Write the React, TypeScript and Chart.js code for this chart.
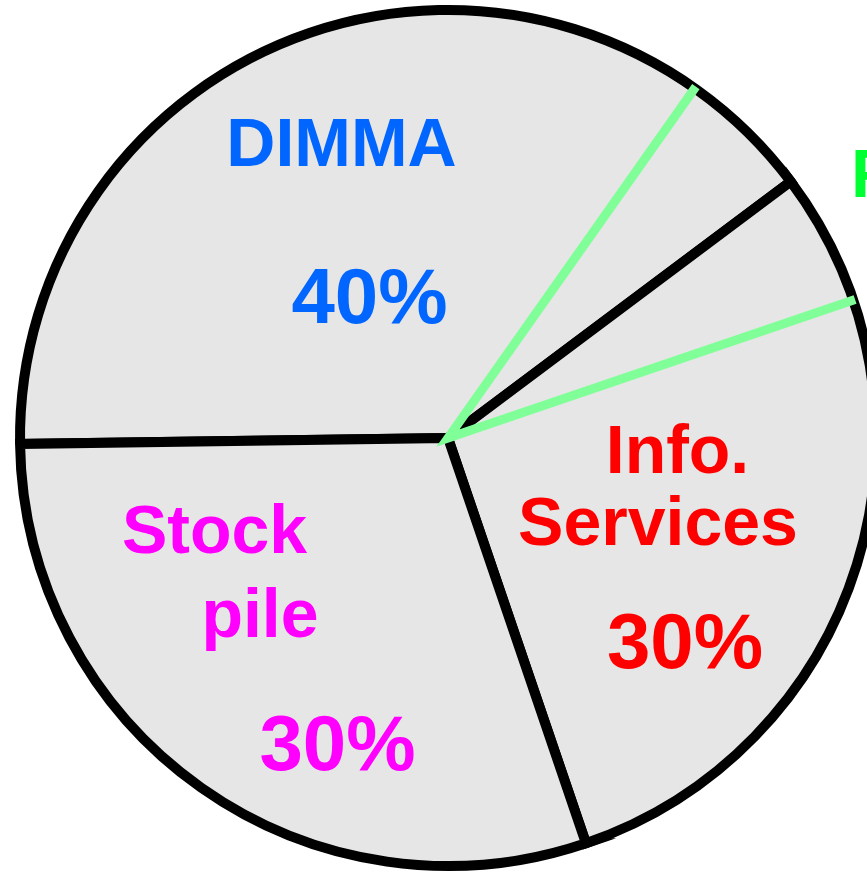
import React, { useEffect, useRef } from "react";
import { Chart, registerables } from "chart.js";

Chart.register(...registerables);

// ---- data ----
const categories = ["DIMMA", "Info. Services", "Stock pile"];
const categoryLines = [["DIMMA"], ["Info.", "Services"], ["Stock", "pile"]];
const values = [40, 30, 30];
const labelColors = ["#0066FF", "#FF0000", "#FF00FF"];
// overlay wedge (green) : starts at this share of the pie, spans overlayValue
const overlayLabel = "F";
const overlayStart = 35;
const overlayValue = 10;
const overlayLabelColor = "#00FF33";
const overlayLineColor = "#80FF99";

// ---- layout (pixel offsets from pie centre) ----
const NAME_FONT = "bold 68px 'Liberation Sans', Arial, sans-serif";
const PCT_FONT = "bold 78px 'Liberation Sans', Arial, sans-serif";
const nameOffsets = [
  [[-106.5, -272]],
  [[229.5, 35], [210, 107]],
  [[-233.5, 115], [-188, 199]],
];
const pctOffsets = [
  [-78.5, -115],
  [237, 230],
  [-110.5, 332],
];
const overlayLabelOffset = [403, -241];

const overlayPlugin = {
  id: "overlayPlugin",
  afterDatasetsDraw(chart: any) {
    const meta = chart.getDatasetMeta(0);
    const arc = meta.data[0];
    if (!arc) return;
    const { x, y, outerRadius } = arc.getProps(["x", "y", "outerRadius"], true);
    const total = values.reduce((a, b) => a + b, 0);
    const start = ((chart.options.rotation - 90) * Math.PI) / 180;
    const a1 = start + (overlayStart / total) * Math.PI * 2;
    const a2 = a1 + (overlayValue / total) * Math.PI * 2;
    const ctx = chart.ctx;
    ctx.save();
    ctx.strokeStyle = overlayLineColor;
    ctx.lineWidth = 9;
    ctx.lineCap = "butt";
    ctx.lineJoin = "miter";
    ctx.beginPath();
    ctx.moveTo(x + Math.cos(a1) * (outerRadius + 2), y + Math.sin(a1) * (outerRadius + 2));
    ctx.lineTo(x, y);
    ctx.lineTo(x + Math.cos(a2) * (outerRadius + 2), y + Math.sin(a2) * (outerRadius + 2));
    ctx.stroke();
    ctx.restore();
  },
  afterDraw(chart: any) {
    const meta = chart.getDatasetMeta(0);
    const arc = meta.data[0];
    if (!arc) return;
    const { x, y } = arc.getProps(["x", "y"], true);
    const ctx = chart.ctx;
    ctx.save();
    ctx.textBaseline = "alphabetic";
    categoryLines.forEach((lines, i) => {
      ctx.fillStyle = labelColors[i];
      ctx.font = NAME_FONT;
      ctx.textAlign = "center";
      lines.forEach((line, j) => {
        const [dx, dy] = nameOffsets[i][j];
        ctx.fillText(line, x + dx, y + dy);
      });
      ctx.font = PCT_FONT;
      const [px, py] = pctOffsets[i];
      ctx.fillText(`${values[i]}%`, x + px, y + py);
    });
    ctx.fillStyle = overlayLabelColor;
    ctx.font = NAME_FONT;
    ctx.textAlign = "left";
    ctx.fillText(overlayLabel, x + overlayLabelOffset[0], y + overlayLabelOffset[1]);
    ctx.restore();
  },
};

export default function App() {
  const ref = useRef<HTMLCanvasElement | null>(null);
  useEffect(() => {
    if (!ref.current) return;
    const chart = new Chart(ref.current, {
      type: "pie",
      data: {
        labels: categories,
        datasets: [
          {
            data: values,
            backgroundColor: "#E6E6E6",
            borderColor: "#000000",
            borderWidth: 10,
            borderJoinStyle: "miter",
          } as any,
        ],
      },
      options: {
        responsive: false,
        maintainAspectRatio: false,
        animation: false,
        devicePixelRatio: 1,
        rotation: 269.2,
        layout: { padding: { left: 15, top: 5, right: 19, bottom: 3 } },
        plugins: {
          legend: { display: false },
          tooltip: { enabled: false },
        },
      } as any,
      plugins: [overlayPlugin],
    });
    return () => chart.destroy();
  }, []);
  return (
    <div
      style={{
        position: "fixed",
        left: 0,
        top: 0,
        width: 867,
        height: 874,
        overflow: "hidden",
        background: "#fff",
      }}
    >
      <canvas ref={ref} width={900} height={874} style={{ display: "block" }} />
    </div>
  );
}
